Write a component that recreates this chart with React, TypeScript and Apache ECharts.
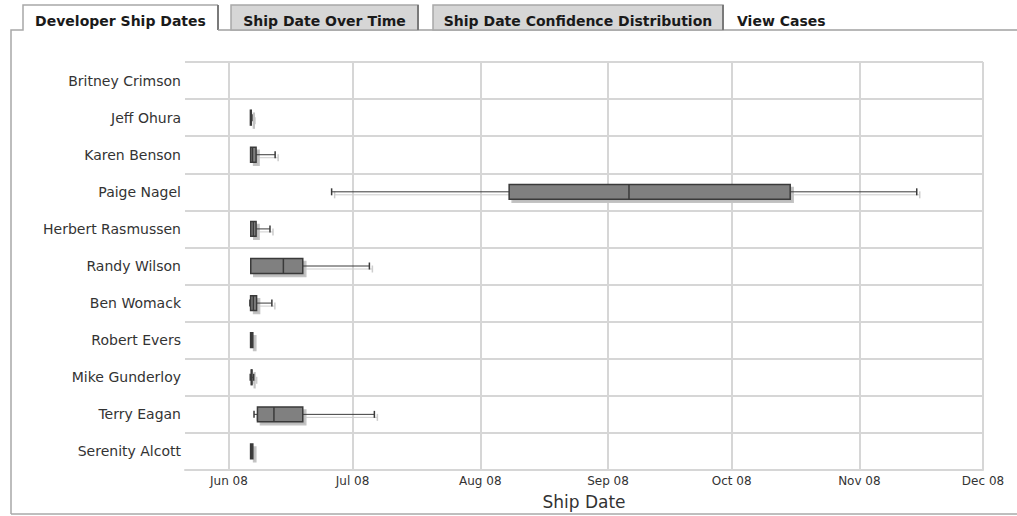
import React, { useEffect, useRef } from "react";
import * as echarts from "echarts";

const developers = [
  "Britney Crimson",
  "Jeff Ohura",
  "Karen Benson",
  "Paige Nagel",
  "Herbert Rasmussen",
  "Randy Wilson",
  "Ben Womack",
  "Robert Evers",
  "Mike Gunderloy",
  "Terry Eagan",
  "Serenity Alcott",
];

// Ship date distribution per developer (null = no estimate)
const minDates = [null, "2008-06-06T05:00", "2008-06-06T06:00", "2008-06-25T22:00", "2008-06-06T07:00", "2008-06-06T07:00", "2008-06-06T02:00", "2008-06-06T06:00", "2008-06-06T04:00", "2008-06-07T02:00", "2008-06-06T06:00"];
const q1Dates = [null, "2008-06-06T05:00", "2008-06-06T06:00", "2008-08-08T00:00", "2008-06-06T07:00", "2008-06-06T07:00", "2008-06-06T06:00", "2008-06-06T06:00", "2008-06-06T10:00", "2008-06-07T22:00", "2008-06-06T06:00"];
const medianDates = [null, "2008-06-06T07:00", "2008-06-06T17:00", "2008-09-06T02:00", "2008-06-06T22:00", "2008-06-14T05:00", "2008-06-06T22:00", "2008-06-06T12:00", "2008-06-06T12:00", "2008-06-11T22:00", "2008-06-06T12:00"];
const q3Dates = [null, "2008-06-06T10:00", "2008-06-07T14:00", "2008-10-15T05:00", "2008-06-07T14:00", "2008-06-18T22:00", "2008-06-07T17:00", "2008-06-06T19:00", "2008-06-06T14:00", "2008-06-18T22:00", "2008-06-06T19:00"];
const maxDates = [null, "2008-06-06T14:00", "2008-06-12T05:00", "2008-11-14T22:00", "2008-06-10T23:00", "2008-07-05T02:00", "2008-06-11T10:00", "2008-06-06T19:00", "2008-06-07T00:00", "2008-07-06T07:00", "2008-06-06T19:00"];

const axisStart = "2008-05-21T08:00";
const axisEnd = "2008-12-01T00:00";

const tabs = ["Developer Ship Dates", "Ship Date Over Time", "Ship Date Confidence Distribution", "View Cases"];
const monthNames = ["Jan", "Feb", "Mar", "Apr", "May", "Jun", "Jul", "Aug", "Sep", "Oct", "Nov", "Dec"];

const t = (s: string) => new Date(s).getTime();

export default function App() {
  const ref = useRef<HTMLDivElement>(null);
  useEffect(() => {
    if (!ref.current) return;
    const chart = echarts.init(ref.current, null, { renderer: "svg" });
    const data: number[][] = [];
    developers.forEach((_, i) => {
      if (minDates[i] == null) return;
      data.push([i, t(minDates[i]!), t(q1Dates[i]!), t(medianDates[i]!), t(q3Dates[i]!), t(maxDates[i]!)]);
    });

    const dark = "#3a3a3a";
    const renderItem = (params: any, api: any) => {
      const cat = api.value(0);
      const xs = [1, 2, 3, 4, 5].map((k) => api.coord([api.value(k), cat])[0]);
      const yc = api.coord([api.value(1), cat])[1];
      const h = api.size([0, 1])[1] * 0.4;
      const [xMin, xQ1, xMed, xQ3, xMax] = xs;
      const cap = 3.5;
      const build = (dx: number, dy: number, shadow: boolean) => {
        const stroke = shadow ? "#cdcdcd" : dark;
        const els: any[] = [];
        if (xQ1 - xMin > 0.5) {
          els.push({ type: "line", shape: { x1: xMin + dx, y1: yc + dy, x2: xQ1 + dx, y2: yc + dy }, style: { stroke, lineWidth: 1 } });
          els.push({ type: "line", shape: { x1: xMin + dx, y1: yc - cap + dy, x2: xMin + dx, y2: yc + cap + dy }, style: { stroke, lineWidth: 1.5 } });
        }
        if (xMax - xQ3 > 0.5) {
          els.push({ type: "line", shape: { x1: xQ3 + dx, y1: yc + dy, x2: xMax + dx, y2: yc + dy }, style: { stroke, lineWidth: 1 } });
          els.push({ type: "line", shape: { x1: xMax + dx, y1: yc - cap + dy, x2: xMax + dx, y2: yc + cap + dy }, style: { stroke, lineWidth: 1.5 } });
        }
        els.push({
          type: "rect",
          shape: { x: xQ1 + dx, y: yc - h / 2 + dy, width: Math.max(xQ3 - xQ1, 0), height: h },
          style: shadow ? { fill: "#bdbdbd", stroke: "#c4c4c4", lineWidth: 1.5 } : { fill: "#808080", stroke: dark, lineWidth: 1.5 },
        });
        if (!shadow) {
          els.push({ type: "line", shape: { x1: xMed, y1: yc - h / 2, x2: xMed, y2: yc + h / 2 }, style: { stroke: dark, lineWidth: 1.5 } });
        }
        return els;
      };
      return { type: "group", children: [...build(3, 3, true), ...build(0, 0, false)] };
    };

    const tabFont = { fontFamily: "DejaVu Sans", fontSize: 14, fontWeight: "bold", fill: "#1a1a1a" } as any;
    const graphic: any[] = [
      // panel frame
      { type: "polyline", shape: { points: [[11, 514], [11, 30], [23, 30], [23, 5], [218, 5]] }, style: { stroke: "#a8a8a8", lineWidth: 1.5, fill: null } },
      { type: "line", shape: { x1: 218, y1: 5, x2: 218, y2: 30 }, style: { stroke: "#7a7a7a", lineWidth: 2 } },
      { type: "line", shape: { x1: 218, y1: 30, x2: 1017, y2: 30 }, style: { stroke: "#a0a0a0", lineWidth: 1.5 } },
      { type: "line", shape: { x1: 11, y1: 514, x2: 1017, y2: 514 }, style: { stroke: "#a8a8a8", lineWidth: 1.5 } },
      // inactive tabs
      { type: "rect", shape: { x: 231, y: 5, width: 187, height: 25 }, style: { fill: "#d6d6d6", stroke: "#a8a8a8", lineWidth: 1.5 } },
      { type: "line", shape: { x1: 418, y1: 5, x2: 418, y2: 30 }, style: { stroke: "#7a7a7a", lineWidth: 2 } },
      { type: "rect", shape: { x: 433, y: 5, width: 290, height: 25 }, style: { fill: "#d6d6d6", stroke: "#a8a8a8", lineWidth: 1.5 } },
      { type: "line", shape: { x1: 723, y1: 5, x2: 723, y2: 30 }, style: { stroke: "#7a7a7a", lineWidth: 2 } },
      { type: "text", x: 120.5, y: 21, style: { ...tabFont, text: tabs[0], textAlign: "center", textVerticalAlign: "middle" } },
      { type: "text", x: 324.5, y: 21, style: { ...tabFont, text: tabs[1], textAlign: "center", textVerticalAlign: "middle" } },
      { type: "text", x: 578, y: 21, style: { ...tabFont, text: tabs[2], textAlign: "center", textVerticalAlign: "middle" } },
      { type: "text", x: 737, y: 21, style: { ...tabFont, text: tabs[3], textAlign: "left", textVerticalAlign: "middle" } },
    ];

    chart.setOption({
      animation: false,
      backgroundColor: "#ffffff",
      graphic,
      grid: { left: 185, right: 34, top: 62, bottom: 46, containLabel: false, outerBoundsMode: "none" },
      xAxis: {
        type: "time",
        min: t(axisStart),
        max: t(axisEnd),
        name: "Ship Date",
        nameLocation: "middle",
        nameGap: 23,
        nameTextStyle: { fontFamily: "DejaVu Sans", fontSize: 17, color: "#333" },
        axisLine: { show: true, lineStyle: { color: "#d6d6d6", width: 2 } },
        axisTick: { show: false },
        splitLine: { show: true, showMinLine: false, showMaxLine: true, lineStyle: { color: "#d6d6d6", width: 2 } },
        axisLabel: {
          showMinLabel: false,
          showMaxLabel: true,
          margin: 5,
          fontFamily: "DejaVu Sans",
          fontSize: 12,
          color: "#333",
          hideOverlap: false,
          formatter: (v: number) => {
            const d = new Date(v);
            return monthNames[d.getMonth()] + " " + String(d.getFullYear()).slice(2);
          },
        },
      },
      yAxis: {
        type: "category",
        data: developers,
        inverse: true,
        boundaryGap: true,
        axisLine: { show: false },
        axisTick: { show: false },
        splitLine: { show: true, lineStyle: { color: "#d6d6d6", width: 2 } },
        axisLabel: { margin: 4, fontFamily: "DejaVu Sans", fontSize: 14, color: "#333" },
      },
      series: [
        {
          type: "custom",
          renderItem,
          encode: { x: [1, 2, 3, 4, 5], y: 0 },
          data,
        },
      ],
    });
    return () => chart.dispose();
  }, []);
  return <div ref={ref} style={{ position: "absolute", left: 0, top: 0, width: 1017, height: 516 }} />;
}
